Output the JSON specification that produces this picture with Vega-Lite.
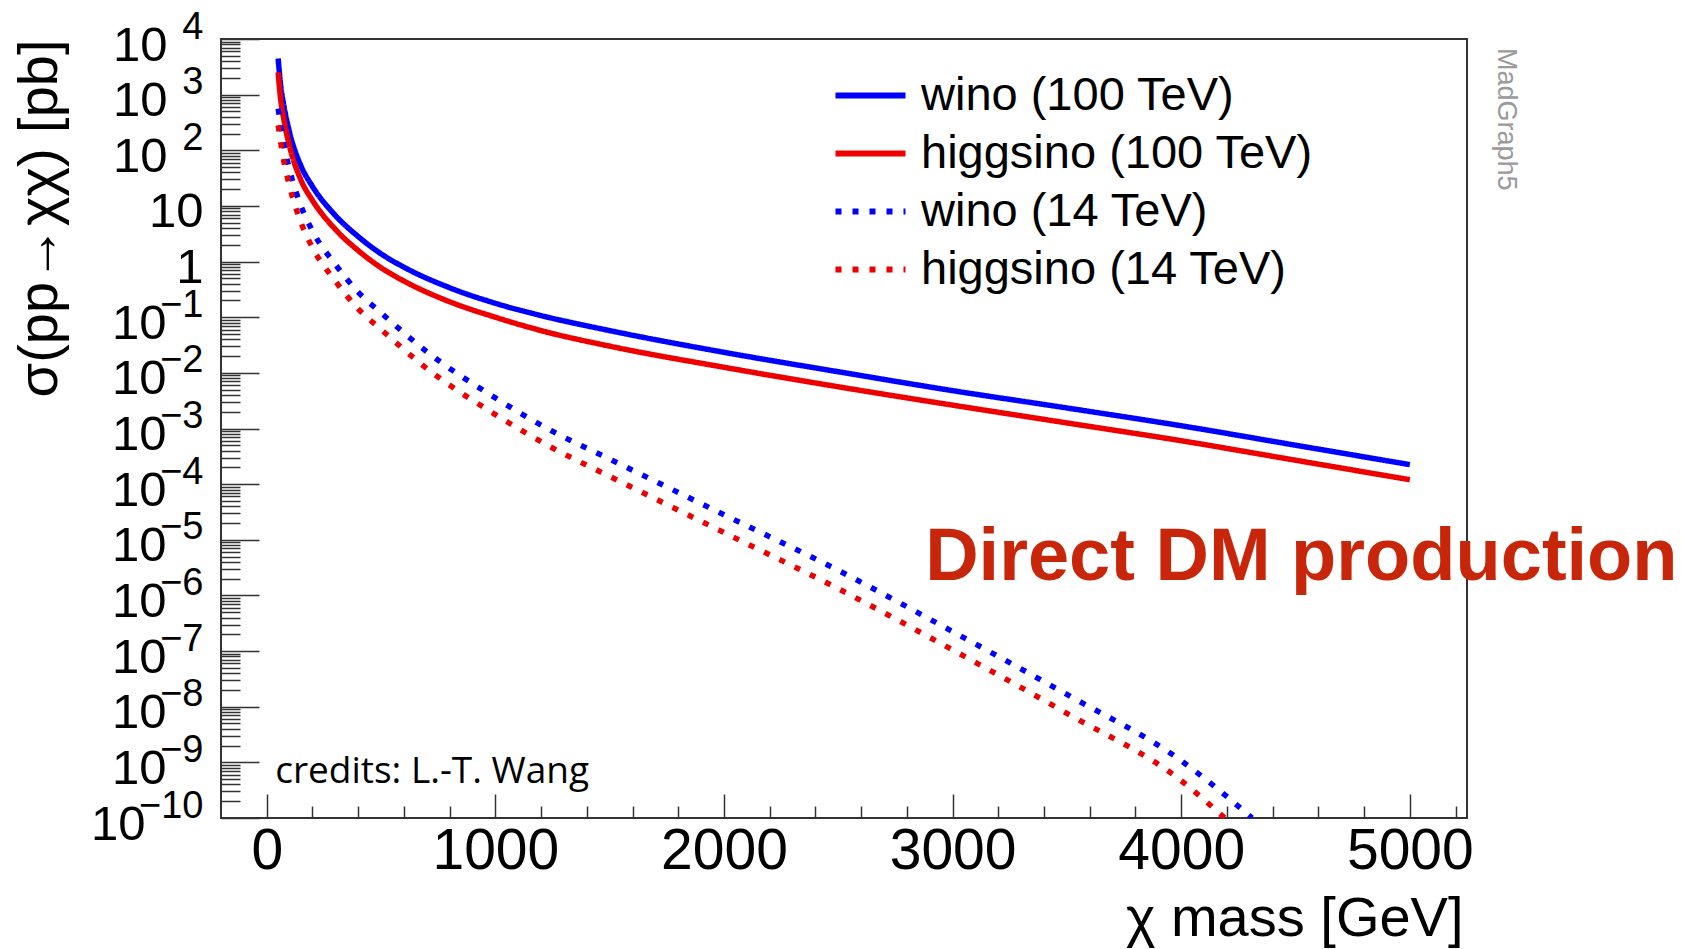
{
  "$schema": "https://vega.github.io/schema/vega-lite/v6.json",
  "width": 1246,
  "height": 779,
  "autosize": {"type": "none"},
  "padding": {"left": 221, "top": 39, "right": 215, "bottom": 131},
  "background": "white",
  "config": {"view": {"stroke": "#333333", "strokeWidth": 2}, "font": "Liberation Sans"},
  "datasets": {
    "curves": [
      {"series": "wino (100 TeV)", "mass": 50, "sigma": 4467},
      {"series": "wino (100 TeV)", "mass": 60, "sigma": 1585},
      {"series": "wino (100 TeV)", "mass": 75, "sigma": 631},
      {"series": "wino (100 TeV)", "mass": 100, "sigma": 210},
      {"series": "wino (100 TeV)", "mass": 150, "sigma": 52},
      {"series": "wino (100 TeV)", "mass": 200, "sigma": 22.4},
      {"series": "wino (100 TeV)", "mass": 300, "sigma": 6.76},
      {"series": "wino (100 TeV)", "mass": 400, "sigma": 2.82},
      {"series": "wino (100 TeV)", "mass": 500, "sigma": 1.38},
      {"series": "wino (100 TeV)", "mass": 600, "sigma": 0.794},
      {"series": "wino (100 TeV)", "mass": 800, "sigma": 0.339},
      {"series": "wino (100 TeV)", "mass": 1000, "sigma": 0.178},
      {"series": "wino (100 TeV)", "mass": 1200, "sigma": 0.107},
      {"series": "wino (100 TeV)", "mass": 1500, "sigma": 0.0575},
      {"series": "wino (100 TeV)", "mass": 2000, "sigma": 0.0234},
      {"series": "wino (100 TeV)", "mass": 2500, "sigma": 0.01047},
      {"series": "wino (100 TeV)", "mass": 3000, "sigma": 0.00479},
      {"series": "wino (100 TeV)", "mass": 3500, "sigma": 0.00234},
      {"series": "wino (100 TeV)", "mass": 4000, "sigma": 0.00112},
      {"series": "wino (100 TeV)", "mass": 4500, "sigma": 0.000501},
      {"series": "wino (100 TeV)", "mass": 5000, "sigma": 0.000224},
      {"series": "higgsino (100 TeV)", "mass": 50, "sigma": 2512},
      {"series": "higgsino (100 TeV)", "mass": 60, "sigma": 891},
      {"series": "higgsino (100 TeV)", "mass": 75, "sigma": 355},
      {"series": "higgsino (100 TeV)", "mass": 100, "sigma": 118},
      {"series": "higgsino (100 TeV)", "mass": 150, "sigma": 29},
      {"series": "higgsino (100 TeV)", "mass": 200, "sigma": 12.6},
      {"series": "higgsino (100 TeV)", "mass": 300, "sigma": 3.8},
      {"series": "higgsino (100 TeV)", "mass": 400, "sigma": 1.58},
      {"series": "higgsino (100 TeV)", "mass": 500, "sigma": 0.776},
      {"series": "higgsino (100 TeV)", "mass": 600, "sigma": 0.447},
      {"series": "higgsino (100 TeV)", "mass": 800, "sigma": 0.19},
      {"series": "higgsino (100 TeV)", "mass": 1000, "sigma": 0.1},
      {"series": "higgsino (100 TeV)", "mass": 1200, "sigma": 0.0575},
      {"series": "higgsino (100 TeV)", "mass": 1500, "sigma": 0.0302},
      {"series": "higgsino (100 TeV)", "mass": 2000, "sigma": 0.0126},
      {"series": "higgsino (100 TeV)", "mass": 2500, "sigma": 0.00562},
      {"series": "higgsino (100 TeV)", "mass": 3000, "sigma": 0.00263},
      {"series": "higgsino (100 TeV)", "mass": 3500, "sigma": 0.00126},
      {"series": "higgsino (100 TeV)", "mass": 4000, "sigma": 0.000603},
      {"series": "higgsino (100 TeV)", "mass": 4500, "sigma": 0.000269},
      {"series": "higgsino (100 TeV)", "mass": 5000, "sigma": 0.00012},
      {"series": "wino (14 TeV)", "mass": 50, "sigma": 562},
      {"series": "wino (14 TeV)", "mass": 75, "sigma": 126},
      {"series": "wino (14 TeV)", "mass": 100, "sigma": 44.7},
      {"series": "wino (14 TeV)", "mass": 150, "sigma": 10},
      {"series": "wino (14 TeV)", "mass": 200, "sigma": 3.55},
      {"series": "wino (14 TeV)", "mass": 300, "sigma": 0.891},
      {"series": "wino (14 TeV)", "mass": 400, "sigma": 0.282},
      {"series": "wino (14 TeV)", "mass": 500, "sigma": 0.12},
      {"series": "wino (14 TeV)", "mass": 700, "sigma": 0.024},
      {"series": "wino (14 TeV)", "mass": 1000, "sigma": 0.00355},
      {"series": "wino (14 TeV)", "mass": 1250, "sigma": 0.000891},
      {"series": "wino (14 TeV)", "mass": 1500, "sigma": 0.000282},
      {"series": "wino (14 TeV)", "mass": 2000, "sigma": 2.82e-5},
      {"series": "wino (14 TeV)", "mass": 2500, "sigma": 2.82e-6},
      {"series": "wino (14 TeV)", "mass": 3000, "sigma": 2.24e-7},
      {"series": "wino (14 TeV)", "mass": 3500, "sigma": 1.66e-8},
      {"series": "wino (14 TeV)", "mass": 4000, "sigma": 1.07e-9},
      {"series": "wino (14 TeV)", "mass": 4310, "sigma": 1e-10},
      {"series": "higgsino (14 TeV)", "mass": 50, "sigma": 282},
      {"series": "higgsino (14 TeV)", "mass": 75, "sigma": 63.1},
      {"series": "higgsino (14 TeV)", "mass": 100, "sigma": 22.4},
      {"series": "higgsino (14 TeV)", "mass": 150, "sigma": 5.01},
      {"series": "higgsino (14 TeV)", "mass": 200, "sigma": 1.78},
      {"series": "higgsino (14 TeV)", "mass": 300, "sigma": 0.447},
      {"series": "higgsino (14 TeV)", "mass": 400, "sigma": 0.141},
      {"series": "higgsino (14 TeV)", "mass": 500, "sigma": 0.0603},
      {"series": "higgsino (14 TeV)", "mass": 700, "sigma": 0.012},
      {"series": "higgsino (14 TeV)", "mass": 1000, "sigma": 0.00178},
      {"series": "higgsino (14 TeV)", "mass": 1250, "sigma": 0.000447},
      {"series": "higgsino (14 TeV)", "mass": 1500, "sigma": 0.000138},
      {"series": "higgsino (14 TeV)", "mass": 2000, "sigma": 1.35e-5},
      {"series": "higgsino (14 TeV)", "mass": 2500, "sigma": 1.32e-6},
      {"series": "higgsino (14 TeV)", "mass": 3000, "sigma": 1.05e-7},
      {"series": "higgsino (14 TeV)", "mass": 3500, "sigma": 7.59e-9},
      {"series": "higgsino (14 TeV)", "mass": 4000, "sigma": 4.68e-10},
      {"series": "higgsino (14 TeV)", "mass": 4190, "sigma": 1e-10}
    ],
    "note": [{"text": "Direct DM production", "mass": 2880, "sigma": 1.9e-6}],
    "credit": [{"text": "credits: L.-T. Wang", "mass": 37, "sigma": 4.2e-10}],
    "stamp": [{"text": "MadGraph5", "mass": 5421, "sigma": 6890}]
  },
  "resolve": {"scale": {"y": "independent"}, "axis": {"y": "independent"}},
  "layer": [
    {
      "data": {"name": "curves"},
      "mark": {"type": "line", "strokeWidth": 5.5, "interpolate": "monotone", "clip": true},
      "encoding": {
        "x": {
          "field": "mass", "type": "quantitative",
          "scale": {"domain": [-200, 5250], "nice": false, "zero": false},
          "axis": {
            "title": "χ mass [GeV]",
            "values": [0, 200, 400, 600, 800, 1000, 1200, 1400, 1600, 1800, 2000, 2200, 2400, 2600, 2800, 3000, 3200, 3400, 3600, 3800, 4000, 4200, 4400, 4600, 4800, 5000, 5200],
            "tickSize": {"expr": "datum.value % 1000 === 0 ? -24 : -12"},
            "tickColor": "#333333", "tickWidth": 1.5,
            "domain": false, "grid": false,
            "labelExpr": "datum.value % 1000 === 0 ? format(datum.value, 'd') : ''",
            "labelFont": "Liberation Sans", "labelFontSize": 57, "labelColor": "black",
            "labelPadding": {"expr": "datum.value % 1000 === 0 ? 29 : 17"},
            "labelFlush": false, "labelOverlap": false,
            "titleFont": "Liberation Sans", "titleFontSize": 56, "titleFontWeight": "normal", "titleColor": "black",
            "titleAnchor": "end", "titleAlign": "right", "titleBaseline": "alphabetic",
            "titleX": 1242, "titleY": 117
          }
        },
        "y": {
          "field": "sigma", "type": "quantitative",
          "scale": {"type": "log", "domain": [1e-10, 10000], "nice": false},
          "axis": {
            "orient": "left",
            "title": "σ(pp→χχ) [pb]",
            "values": [1e-10, 2e-10, 3e-10, 4e-10, 5e-10, 6e-10, 7e-10, 8e-10, 9e-10,
                       1e-9, 2e-9, 3e-9, 4e-9, 5e-9, 6e-9, 7e-9, 8e-9, 9e-9,
                       1e-8, 2e-8, 3e-8, 4e-8, 5e-8, 6e-8, 7e-8, 8e-8, 9e-8,
                       1e-7, 2e-7, 3e-7, 4e-7, 5e-7, 6e-7, 7e-7, 8e-7, 9e-7,
                       1e-6, 2e-6, 3e-6, 4e-6, 5e-6, 6e-6, 7e-6, 8e-6, 9e-6,
                       1e-5, 2e-5, 3e-5, 4e-5, 5e-5, 6e-5, 7e-5, 8e-5, 9e-5,
                       0.0001, 0.0002, 0.0003, 0.0004, 0.0005, 0.0006, 0.0007, 0.0008, 0.0009,
                       0.001, 0.002, 0.003, 0.004, 0.005, 0.006, 0.007, 0.008, 0.009,
                       0.01, 0.02, 0.03, 0.04, 0.05, 0.06, 0.07, 0.08, 0.09,
                       0.1, 0.2, 0.3, 0.4, 0.5, 0.6, 0.7, 0.8, 0.9,
                       1, 2, 3, 4, 5, 6, 7, 8, 9,
                       10, 20, 30, 40, 50, 60, 70, 80, 90,
                       100, 200, 300, 400, 500, 600, 700, 800, 900,
                       1000, 2000, 3000, 4000, 5000, 6000, 7000, 8000, 9000, 10000],
            "tickSize": {"expr": "abs(log(datum.value)/LN10 - round(log(datum.value)/LN10)) < 0.01 ? -38 : -19"},
            "tickColor": "#333333", "tickWidth": 1.5,
            "domain": false, "grid": false,
            "labelExpr": "abs(log(datum.value)/LN10 - round(log(datum.value)/LN10)) > 0.01 ? '' : (round(log(datum.value)/LN10) == 0 ? '1' : '10')",
            "labelFont": "Liberation Sans", "labelFontSize": 49, "labelColor": "black", "labelAlign": "right",
            "labelPadding": {"expr": "38 + (round(log(datum.value)/LN10) >= 2 ? 54 : (round(log(datum.value)/LN10) >= 0 ? 18 : (round(log(datum.value)/LN10) >= -9 ? 55 : 76)))"},
            "labelOffset": 21, "labelBaseline": "alphabetic",
            "labelFlush": false, "labelOverlap": false,
            "titleFont": "Liberation Sans", "titleFontSize": 56, "titleFontWeight": "normal", "titleColor": "black",
            "titleAngle": 270, "titleAnchor": "end", "titleAlign": "right", "titleBaseline": "alphabetic",
            "titleX": -165, "titleY": 0
          }
        },
        "color": {
          "field": "series", "type": "nominal",
          "scale": {"domain": ["wino (100 TeV)", "higgsino (100 TeV)", "wino (14 TeV)", "higgsino (14 TeV)"], "range": ["#0000ff", "#ee0000", "#0000ff", "#ee0000"]},
          "legend": {
            "title": null, "orient": "none", "legendX": 615, "legendY": 22,
            "symbolType": "M-1.1165,0H1.1165", "symbolSize": 3930, "symbolStrokeWidth": 6,
            "labelFont": "Liberation Sans", "labelFontSize": 47, "labelColor": "black", "labelLimit": 800,
            "labelOffset": 16, "rowPadding": 0, "padding": 0,
            "encode": {"symbols": {"update": {"strokeDash": {"signal": "indexof(datum.value, '(14') >= 0 ? [9, 5] : [1, 0]"}}}}
          }
        },
        "strokeDash": {
          "field": "series", "type": "nominal",
          "scale": {"domain": ["wino (100 TeV)", "higgsino (100 TeV)", "wino (14 TeV)", "higgsino (14 TeV)"], "range": [[1, 0], [1, 0], [6, 11], [6, 11]]},
          "legend": null
        }
      }
    },
    {
      "data": {"name": "note"},
      "mark": {"type": "text", "align": "left", "baseline": "alphabetic", "font": "Liberation Sans", "fontWeight": "bold", "fontSize": 74, "color": "#c8260a", "clip": false},
      "encoding": {
        "x": {"field": "mass", "type": "quantitative", "scale": {"domain": [-200, 5250], "nice": false, "zero": false}},
        "y": {"field": "sigma", "type": "quantitative", "scale": {"type": "log", "domain": [1e-10, 10000], "nice": false}, "axis": null},
        "text": {"field": "text"}
      }
    },
    {
      "data": {"name": "stamp"},
      "mark": {"type": "text", "align": "left", "baseline": "middle", "angle": 90, "font": "Liberation Sans", "fontSize": 27, "color": "#9a9a9a", "clip": false},
      "encoding": {
        "x": {"field": "mass", "type": "quantitative", "scale": {"domain": [-200, 5250], "nice": false, "zero": false}},
        "y": {"field": "sigma", "type": "quantitative", "scale": {"type": "log", "domain": [1e-10, 10000], "nice": false}, "axis": null},
        "text": {"field": "text"}
      }
    },
    {
      "data": {"name": "credit"},
      "mark": {"type": "text", "align": "left", "baseline": "alphabetic", "font": "Open Sans", "fontSize": 37, "color": "black", "clip": false},
      "encoding": {
        "x": {"field": "mass", "type": "quantitative", "scale": {"domain": [-200, 5250], "nice": false, "zero": false}},
        "y": {
          "field": "sigma", "type": "quantitative",
          "scale": {"type": "log", "domain": [1e-10, 10000], "nice": false},
          "axis": {
            "orient": "left", "title": null,
            "values": [1e-10, 1e-9, 1e-8, 1e-7, 1e-6, 1e-5, 0.0001, 0.001, 0.01, 0.1, 1, 10, 100, 1000, 10000],
            "ticks": false, "domain": false, "grid": false,
            "labelExpr": "(round(log(datum.value)/LN10) == 0 || round(log(datum.value)/LN10) == 1) ? '' : format(round(log(datum.value)/LN10), 'd')",
            "labelFont": "Liberation Sans", "labelFontSize": 38, "labelColor": "black", "labelAlign": "right",
            "labelPadding": 18, "labelOffset": -1, "labelBaseline": "alphabetic",
            "labelFlush": false, "labelOverlap": false
          }
        },
        "text": {"field": "text"}
      }
    }
  ]
}
